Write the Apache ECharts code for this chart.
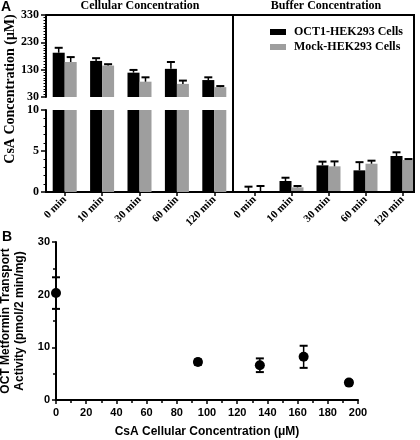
<!DOCTYPE html>
<html><head><meta charset="utf-8">
<script src="https://cdn.jsdelivr.net/npm/echarts@6/dist/echarts.min.js"></script>
<style>html,body{margin:0;padding:0;background:#fff}#c{width:420px;height:440px}</style>
</head><body><div id="c"></div>
<script>
// ---- Panel A data ----
const timeCats = ['0 min', '10 min', '30 min', '60 min', '120 min'];
const seriesNames = ['OCT1-HEK293 Cells', 'Mock-HEK293 Cells'];
const cellOct = [192, 162, 119, 133, 92];
const cellOctErr = [18, 10, 10, 25, 10];
const cellMock = [158, 145, 86, 78, 66];
const cellMockErr = [18, 5, 16, 12, 4];
const bufOct = [0, 1.34, 3.25, 2.64, 4.39];
const bufOctErr = [0.65, 0.4, 0.45, 1.0, 0.45];
const bufMock = [0, 0.57, 3.13, 3.45, 3.9];
const bufMockErr = [0.73, 0.16, 0.6, 0.37, 0.12];
const upperRange = [30, 330];   // upper (broken) axis segment
const lowerRange = [0, 10];     // lower axis segment
// ---- Panel B data ----
const csaConc = [0, 94, 135, 164, 194];
const octActivity = [20.3, 7.2, 6.6, 8.2, 3.3];
const octActivityErr = [3.0, 0.5, 1.3, 2.1, 0.4];

const SERIF = '"Liberation Serif", "Times New Roman", serif';
const SANS = '"Liberation Sans", Arial, sans-serif';
const BAR_W = 12, CAP = 8;
const COLORS = ['#000000', '#9e9e9e'];

function barErrItem(side) {
  return function (params, api) {
    const i = api.value(0), v = api.value(1), e = api.value(2);
    const b = api.coord([i, v]), t = api.coord([i, v + e]);
    const x = b[0] + side * BAR_W / 2;
    return { type: 'group', children: [
      { type: 'line', shape: { x1: x, y1: b[1], x2: x, y2: t[1] }, style: { stroke: '#000', lineWidth: 1.5 } },
      { type: 'line', shape: { x1: x - CAP / 2, y1: t[1], x2: x + CAP / 2, y2: t[1] }, style: { stroke: '#000', lineWidth: 2 } }
    ]};
  };
}
function scatErrItem(params, api) {
  const x = api.value(0), y = api.value(1), e = api.value(2);
  const lo = api.coord([x, y - e]), hi = api.coord([x, y + e]);
  return { type: 'group', children: [
    { type: 'line', shape: { x1: lo[0], y1: lo[1], x2: hi[0], y2: hi[1] }, style: { stroke: '#000', lineWidth: 1.5 } },
    { type: 'line', shape: { x1: lo[0] - CAP / 2, y1: lo[1], x2: lo[0] + CAP / 2, y2: lo[1] }, style: { stroke: '#000', lineWidth: 2 } },
    { type: 'line', shape: { x1: hi[0] - CAP / 2, y1: hi[1], x2: hi[0] + CAP / 2, y2: hi[1] }, style: { stroke: '#000', lineWidth: 2 } }
  ]};
}
const zip = (a, b) => a.map((v, k) => [k, v, b[k]]);

const axLine = { show: true, lineStyle: { color: '#000', width: 2 } };
const catAxisBase = {
  type: 'category', data: timeCats, boundaryGap: true,
  axisLine: axLine,
  axisTick: { show: true, alignWithLabel: true, length: 4, lineStyle: { color: '#000', width: 1.5 } },
  axisLabel: { rotate: 45, margin: 6, color: '#000', fontFamily: SERIF, fontWeight: 'bold', fontSize: 11, interval: 0 },
  splitLine: { show: false }
};
const yLbl = { color: '#000', fontFamily: SERIF, fontWeight: 'bold', fontSize: 12, margin: 7 };

const option = {
  animation: false,
  backgroundColor: '#fff',
  grid: [
    { left: 46, top: 15, width: 187, height: 82, outerBoundsMode: 'none' },   // cellular upper
    { left: 46, top: 110, width: 187, height: 82, outerBoundsMode: 'none' },  // cellular lower
    { left: 236, top: 110, width: 185, height: 82, outerBoundsMode: 'none' }, // buffer
    { left: 56, top: 242, width: 302, height: 158, outerBoundsMode: 'none' }  // panel B
  ],
  xAxis: [
    { gridIndex: 0, type: 'category', data: timeCats, show: false },
    Object.assign({ gridIndex: 1 }, catAxisBase),
    Object.assign({ gridIndex: 2 }, catAxisBase, { axisLine: { show: false } }),
    { gridIndex: 3, type: 'value', min: 0, max: 200, interval: 20,
      axisLine: axLine,
      axisTick: { show: true, length: 4, lineStyle: { color: '#000', width: 1.5 } },
      minorTick: { show: true, splitNumber: 2, length: 3, lineStyle: { color: '#000', width: 1.5 } },
      axisLabel: { color: '#000', fontFamily: SANS, fontWeight: 'bold', fontSize: 11, margin: 7 },
      splitLine: { show: false }, minorSplitLine: { show: false },
      name: 'CsA Cellular Concentration (μM)', nameLocation: 'middle', nameGap: 26,
      nameTextStyle: { color: '#000', fontFamily: SANS, fontWeight: 'bold', fontSize: 12 } }
  ],
  yAxis: [
    { gridIndex: 0, type: 'value', min: upperRange[0], max: upperRange[1], interval: 100,
      axisLine: axLine,
      axisTick: { show: true, length: 5, lineStyle: { color: '#000', width: 1.5 } },
      minorTick: { show: true, splitNumber: 10, length: 2.5, lineStyle: { color: '#000', width: 1 } },
      axisLabel: yLbl, splitLine: { show: false }, minorSplitLine: { show: false } },
    { gridIndex: 1, type: 'value', min: lowerRange[0], max: lowerRange[1], interval: 5,
      axisLine: axLine,
      axisTick: { show: true, length: 5, lineStyle: { color: '#000', width: 1.5 } },
      minorTick: { show: true, splitNumber: 5, length: 2.5, lineStyle: { color: '#000', width: 1 } },
      axisLabel: yLbl, splitLine: { show: false }, minorSplitLine: { show: false } },
    { gridIndex: 2, type: 'value', min: lowerRange[0], max: lowerRange[1], show: false, splitLine: { show: false } },
    { gridIndex: 3, type: 'value', min: 0, max: 30, interval: 10,
      axisLine: axLine,
      axisTick: { show: true, length: 4, lineStyle: { color: '#000', width: 1.5 } },
      minorTick: { show: true, splitNumber: 2, length: 3, lineStyle: { color: '#000', width: 1.5 } },
      axisLabel: { color: '#000', fontFamily: SANS, fontWeight: 'bold', fontSize: 11, margin: 6 },
      splitLine: { show: false }, minorSplitLine: { show: false },
      name: 'OCT Metformin Transport\nActivity (pmol/2 min/mg)', nameLocation: 'middle', nameGap: 26, nameRotate: 90,
      nameTextStyle: { color: '#000', fontFamily: SANS, fontWeight: 'bold', fontSize: 12, lineHeight: 14 } }
  ],
  legend: {
    left: 265, top: 21, orient: 'vertical', itemWidth: 16, itemHeight: 6, itemGap: 3, icon: 'rect',
    data: seriesNames, selectedMode: false,
    textStyle: { color: '#000', fontFamily: SERIF, fontWeight: 'bold', fontSize: 12, lineHeight: 12, padding: [0, 0, 0, 3] }
  },
  series: [
    { name: seriesNames[0], type: 'bar', xAxisIndex: 0, yAxisIndex: 0, data: cellOct, barWidth: BAR_W, barGap: '0%', itemStyle: { color: COLORS[0] }, clip: true },
    { name: seriesNames[1], type: 'bar', xAxisIndex: 0, yAxisIndex: 0, data: cellMock, barWidth: BAR_W, barGap: '0%', itemStyle: { color: COLORS[1] }, clip: true },
    { name: seriesNames[0], type: 'bar', xAxisIndex: 1, yAxisIndex: 1, data: cellOct, barWidth: BAR_W, barGap: '0%', itemStyle: { color: COLORS[0] }, clip: true },
    { name: seriesNames[1], type: 'bar', xAxisIndex: 1, yAxisIndex: 1, data: cellMock, barWidth: BAR_W, barGap: '0%', itemStyle: { color: COLORS[1] }, clip: true },
    { name: seriesNames[0], type: 'bar', xAxisIndex: 2, yAxisIndex: 2, data: bufOct, barWidth: BAR_W, barGap: '0%', itemStyle: { color: COLORS[0] }, clip: true },
    { name: seriesNames[1], type: 'bar', xAxisIndex: 2, yAxisIndex: 2, data: bufMock, barWidth: BAR_W, barGap: '0%', itemStyle: { color: COLORS[1] }, clip: true },
    { type: 'custom', xAxisIndex: 0, yAxisIndex: 0, data: zip(cellOct, cellOctErr), renderItem: barErrItem(-1), z: 3 },
    { type: 'custom', xAxisIndex: 0, yAxisIndex: 0, data: zip(cellMock, cellMockErr), renderItem: barErrItem(1), z: 3 },
    { type: 'custom', xAxisIndex: 2, yAxisIndex: 2, data: zip(bufOct, bufOctErr), renderItem: barErrItem(-1), z: 3 },
    { type: 'custom', xAxisIndex: 2, yAxisIndex: 2, data: zip(bufMock, bufMockErr), renderItem: barErrItem(1), z: 3 },
    { type: 'custom', xAxisIndex: 3, yAxisIndex: 3, data: csaConc.map((x, k) => [x, octActivity[k], octActivityErr[k]]), renderItem: scatErrItem, z: 3 },
    { type: 'scatter', xAxisIndex: 3, yAxisIndex: 3, data: csaConc.map((x, k) => [x, octActivity[k]]), symbol: 'circle', symbolSize: 10, itemStyle: { color: '#000', opacity: 1 }, z: 4 }
  ],
  graphic: [
    { type: 'polyline', shape: { points: [[46, 15], [414, 15], [414, 192], [233, 192]] }, style: { stroke: '#000', lineWidth: 2, fill: null }, z: 10 },
    { type: 'line', shape: { x1: 233, y1: 15, x2: 233, y2: 192 }, style: { stroke: '#000', lineWidth: 2 }, z: 10 },
    { type: 'text', x: 140, y: 0, style: { text: 'Cellular Concentration', font: 'bold 12px ' + SERIF, fill: '#000', align: 'center', verticalAlign: 'top' } },
    { type: 'text', x: 326, y: 0, style: { text: 'Buffer Concentration', font: 'bold 12px ' + SERIF, fill: '#000', align: 'center', verticalAlign: 'top' } },
    { type: 'text', x: 10, y: 89, rotation: Math.PI / 2, style: { text: 'CsA Concentration (μM)', font: 'bold 14px ' + SERIF, fill: '#000', align: 'center', verticalAlign: 'middle' } },
    { type: 'text', x: 1, y: 0, style: { text: 'A', font: 'bold 14px ' + SANS, fill: '#000' } },
    { type: 'text', x: 2, y: 230, style: { text: 'B', font: 'bold 14px ' + SANS, fill: '#000' } }
  ]
};
const chart = echarts.init(document.getElementById('c'));
chart.setOption(option);
</script>
</body></html>
